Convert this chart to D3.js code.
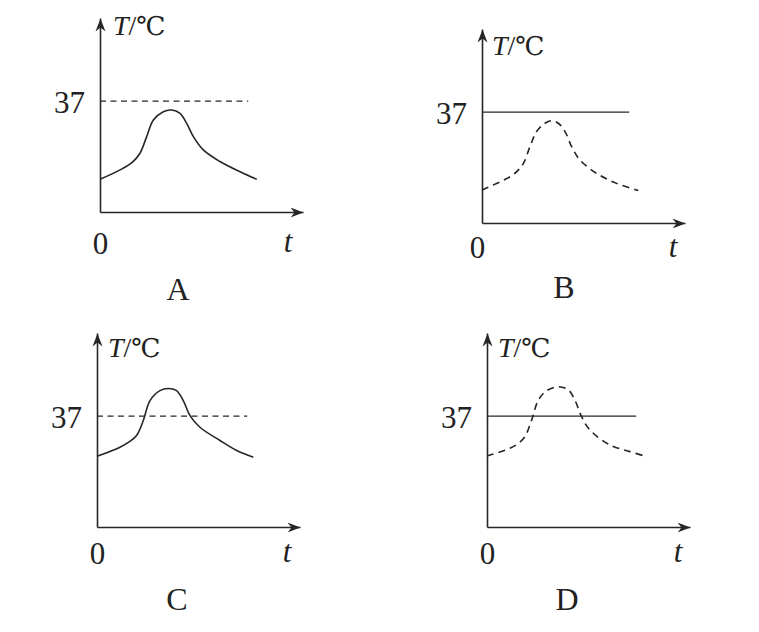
<!DOCTYPE html>
<html>
<head>
<meta charset="utf-8">
<script src="https://cdn.jsdelivr.net/npm/d3@7"></script>
<style>
  body { margin: 0; background: #fff; }
  svg text { font-family: "Liberation Serif", "Noto Sans CJK SC", serif; fill: #222; }
</style>
</head>
<body>
<div id="chart"></div>
<script>
// panel letters and the reference temperature
var panelNames = ["A", "B", "C", "D"];
var refTemp = 37;
var refEnd = [7.3, 7.25, 7.4, 7.35];   // where the 37 line stops (t units)

// body temperature curves
var tA = [0, 0.99, 1.6, 1.97, 2.3, 2.63, 3.12, 3.53, 3.94, 4.27, 4.6, 5.09, 5.91, 6.9, 7.72];
var TA = [34.18, 34.52, 34.8, 35.12, 35.72, 36.32, 36.62, 36.68, 36.56, 36.2, 35.72, 35.24, 34.82, 34.45, 34.18];

var tB = [0, 1.38, 1.75, 2.04, 2.36, 2.69, 3.1, 3.43, 3.76, 4.09, 4.42, 4.83, 5.65, 6.63, 7.7];
var TB = [34.19, 34.67, 34.88, 35.15, 35.75, 36.3, 36.6, 36.69, 36.6, 36.3, 35.75, 35.27, 34.79, 34.43, 34.17];

var tC = [0, 1.13, 1.6, 1.95, 2.28, 2.61, 3.1, 3.51, 3.92, 4.25, 4.58, 5.07, 6.06, 6.88, 7.7];
var TC = [35.55, 35.88, 36.08, 36.3, 36.84, 37.56, 37.92, 38.0, 37.92, 37.56, 37.02, 36.6, 36.12, 35.76, 35.52];

var tD = [0, 1.13, 1.55, 1.87, 2.2, 2.53, 2.94, 3.51, 4.0, 4.33, 4.66, 5.07, 6.06, 7.04, 7.87];
var TD = [35.56, 35.84, 36.02, 36.26, 36.86, 37.58, 37.92, 38.06, 37.95, 37.58, 36.98, 36.5, 35.96, 35.72, 35.54];

var series = [[tA, TA], [tB, TB], [tC, TC], [tD, TD]];

// layout of each small graph (origin, label offsets, which line is dashed)
var layout = [
  { x0: 100, y0: 212, zeroPad: 20, zeroDx: 0,  tx: 188, ty: 40, lx: 78, ly: 88, Tx: 13, Ty: -177, curveDashed: false },
  { x0: 482, y0: 223, zeroPad: 13, zeroDx: -5, tx: 191, ty: 34, lx: 82, ly: 75, Tx: 10, Ty: -168, curveDashed: true },
  { x0: 97,  y0: 527, zeroPad: 15, zeroDx: 0,  tx: 190, ty: 35, lx: 80, ly: 83, Tx: 11, Ty: -170, curveDashed: false },
  { x0: 487, y0: 527, zeroPad: 15, zeroDx: 0,  tx: 191, ty: 35, lx: 80, ly: 83, Tx: 11, Ty: -170, curveDashed: true }
];

var W = 759, H = 632;
var axisW = 203, axisH = 194;
var ink = "#262626";

var svg = d3.select("#chart")
  .append("svg")
  .attr("width", W)
  .attr("height", H);

svg.append("rect").attr("width", W).attr("height", H).attr("fill", "#fff");

// barbed arrow head for the axes
svg.append("defs")
  .append("marker")
  .attr("id", "arrow")
  .attr("viewBox", "-13 -6 14 12")
  .attr("refX", 0)
  .attr("refY", 0)
  .attr("markerWidth", 14)
  .attr("markerHeight", 12)
  .attr("markerUnits", "userSpaceOnUse")
  .attr("orient", "auto")
  .append("path")
  .attr("d", "M0,0 L-13,-5 L-9,0 L-13,5 Z")
  .attr("fill", ink);

layout.forEach(function(p, i) {
  var g = svg.append("g")
    .attr("transform", "translate(" + p.x0 + "," + p.y0 + ")");

  var x = d3.scaleLinear().domain([0, 10]).range([0, axisW]);
  var y = d3.scaleLinear().domain([33, 40]).range([0, -axisH]);

  // y axis with the 37 label
  var yAx = g.append("g")
    .call(d3.axisLeft(y).tickValues([refTemp]).tickSize(0).tickSizeOuter(0).tickPadding(15).tickFormat(d3.format("d")));
  yAx.select(".domain")
    .attr("stroke", ink).attr("stroke-width", 1.6)
    .attr("marker-end", "url(#arrow)");
  yAx.selectAll("text")
    .attr("font-size", 31).attr("dy", "0.36em")
    .style("font-family", "Liberation Serif").style("fill", "#222");

  // x axis with the 0 label
  var xAx = g.append("g")
    .call(d3.axisBottom(x).tickValues([0]).tickSize(0).tickSizeOuter(0).tickPadding(p.zeroPad).tickFormat(d3.format("d")));
  xAx.select(".domain")
    .attr("stroke", ink).attr("stroke-width", 1.6)
    .attr("marker-end", "url(#arrow)");
  xAx.selectAll("text")
    .attr("font-size", 31).attr("dx", p.zeroDx)
    .style("font-family", "Liberation Serif").style("fill", "#222");

  // axis names
  var lab = g.append("text")
    .attr("x", p.Tx)
    .attr("y", p.Ty)
    .attr("font-size", 28);
  lab.append("tspan").attr("font-style", "italic").text("T");
  lab.append("tspan").text("/");
  lab.append("tspan").style("font-family", "'DejaVu Serif', 'Noto Sans CJK SC'").attr("font-size", 26).text("℃");

  g.append("text")
    .attr("x", p.tx)
    .attr("y", p.ty)
    .attr("text-anchor", "middle")
    .attr("font-size", 31)
    .attr("font-style", "italic")
    .text("t");

  g.append("text")
    .attr("x", p.lx)
    .attr("y", p.ly)
    .attr("text-anchor", "middle")
    .attr("font-size", 32)
    .text(panelNames[i]);

  // 37 reference line
  g.append("line")
    .attr("x1", x(0))
    .attr("x2", x(refEnd[i]))
    .attr("y1", y(refTemp))
    .attr("y2", y(refTemp))
    .attr("stroke", ink)
    .attr("stroke-width", 1.4)
    .attr("stroke-dasharray", p.curveDashed ? null : "6,4.5");

  // temperature curve
  var pts = series[i][0].map(function(t, j) { return [t, series[i][1][j]]; });
  g.append("path")
    .datum(pts)
    .attr("d", d3.line()
      .x(function(d) { return x(d[0]); })
      .y(function(d) { return y(d[1]); })
      .curve(d3.curveCatmullRom.alpha(0.5)))
    .attr("fill", "none")
    .attr("stroke", ink)
    .attr("stroke-width", 1.6)
    .attr("stroke-dasharray", p.curveDashed ? "7,5" : null);
});
</script>
</body>
</html>
